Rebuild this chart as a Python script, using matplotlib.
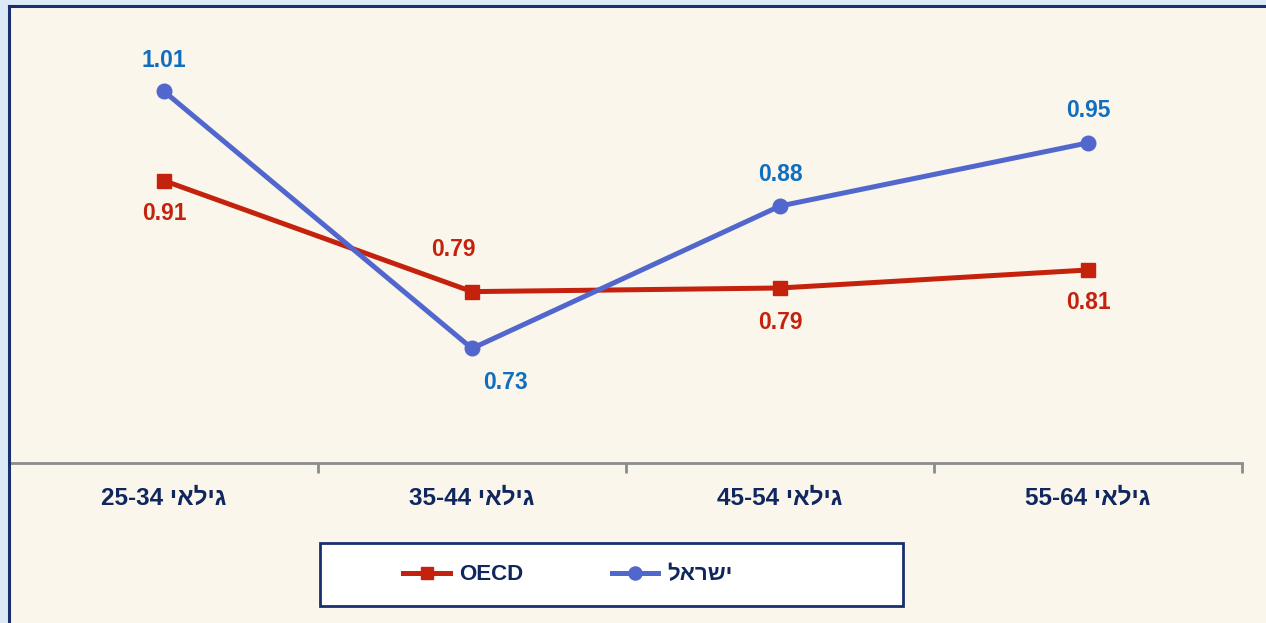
import matplotlib
matplotlib.use("Agg")
import matplotlib.pyplot as plt
from matplotlib.patches import Rectangle
from matplotlib.lines import Line2D

plt.rcParams['font.family'] = ['Liberation Sans', 'DejaVu Sans']

# ---- data ----
categories = ["גילאי 25-34", "גילאי 35-44", "גילאי 45-54", "גילאי 55-64"]
israel = [1.012, 0.727, 0.8849, 0.9549]
oecd = [0.913, 0.790, 0.794, 0.814]
series_names = ["ישראל", "OECD"]


def visual(s):
    """Reorder a logical RTL/LTR mixed string into visual order for LTR rendering."""
    def is_heb(tok):
        return any('\u0590' <= c <= '\u05FF' for c in tok)
    toks = s.split(' ')
    toks = [t[::-1] if is_heb(t) else t for t in toks]
    return ' '.join(reversed(toks))


W, H = 1266, 623
fig = plt.figure(figsize=(W / 100, H / 100), dpi=100)
fig.patch.set_facecolor('#DCEAF8')

cream = '#FAF6EB'
navy = '#1A2F6E'
text_navy = '#10265E'
red = '#C5220E'
blue_line = '#5267CD'
blue_text = '#0F6EC0'

# background panel and border
fig.add_artist(Rectangle((10 / W, 0), 1, 1 - 7 / H, transform=fig.transFigure,
                         facecolor=cream, edgecolor='none', zorder=0))
fig.add_artist(Line2D([9 / W, 1], [1 - 6 / H, 1 - 6 / H], transform=fig.transFigure,
                      color=navy, lw=2.2, zorder=1))
fig.add_artist(Line2D([9 / W, 9 / W], [0, 1 - 6 / H], transform=fig.transFigure,
                      color=navy, lw=2.2, zorder=1))

ax = fig.add_axes([10 / W, 1 - 463 / H, (1242 - 10) / W, (463 - 12) / H])
ax.set_facecolor('none')
x = list(range(len(categories)))

ax.plot(x, oecd, color=red, lw=3.6, marker='s', ms=10, zorder=3, label=series_names[1])
ax.plot(x, israel, color=blue_line, lw=3.6, marker='o', ms=10.5, zorder=4, label=series_names[0])

ax.set_xlim(-0.5, 3.5)
ax.set_ylim(0.6, 1.1)

for s in ['top', 'right', 'left']:
    ax.spines[s].set_visible(False)
ax.spines['bottom'].set_color('#8C8C8C')
ax.spines['bottom'].set_linewidth(2)
ax.set_yticks([])
ax.set_xticks([0.5, 1.5, 2.5, 3.5])
ax.set_xticklabels([])
ax.tick_params(axis='x', which='major', length=7, width=2, color='#8C8C8C', direction='out')
ax.set_xticks(x, minor=True)
ax.set_xticklabels([visual(c) for c in categories], minor=True)
ax.tick_params(axis='x', which='minor', length=0, pad=17, labelsize=17.5, labelcolor=text_navy)
for lbl in ax.get_xticklabels(minor=True):
    lbl.set_fontweight('bold')

# data labels (offsets in pixels)
isr_off = [(0, 31), (34, -34), (0, 32), (0, 32)]
oecd_off = [(0, -33), (-19, 42), (0, -34), (0, -33)]
for xi, v, off in zip(x, israel, isr_off):
    ax.annotate(f"{v:.2f}", (xi, v), xytext=off, textcoords='offset pixels',
                ha='center', va='center', fontsize=16.5, fontweight='bold', color=blue_text)
for xi, v, off in zip(x, oecd, oecd_off):
    ax.annotate(f"{v:.2f}", (xi, v), xytext=off, textcoords='offset pixels',
                ha='center', va='center', fontsize=16.5, fontweight='bold', color=red)

# legend box
fig.add_artist(Rectangle((320 / W, 1 - 606 / H), (903 - 320) / W, (606 - 543) / H,
                         transform=fig.transFigure, facecolor='white', edgecolor=navy,
                         lw=2, zorder=2))
handles, labels = ax.get_legend_handles_labels()
order = [0, 1]  # OECD first, then Israel
leg = fig.legend([handles[i] for i in order], [visual(labels[i]) for i in order],
                 loc='center', bbox_to_anchor=(568 / W, 1 - 575 / H), ncol=2,
                 frameon=False, fontsize=16, handlelength=2.1, handletextpad=0.4,
                 columnspacing=4.0, markerscale=0.9)
leg.set_zorder(5)
for t in leg.get_texts():
    t.set_fontweight('bold')
    t.set_color(text_navy)

fig.savefig('out.png', dpi=100, facecolor=fig.get_facecolor())
